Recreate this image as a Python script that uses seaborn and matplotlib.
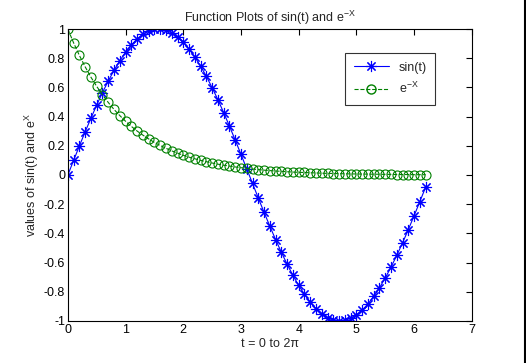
import matplotlib
matplotlib.use('Agg')
import matplotlib.pyplot as plt
import seaborn as sns
from matplotlib.lines import Line2D

# t = 0:0.1:6.2
t = [0.0, 0.1, 0.2, 0.3, 0.4, 0.5, 0.6, 0.7, 0.8, 0.9,
     1.0, 1.1, 1.2, 1.3, 1.4, 1.5, 1.6, 1.7, 1.8, 1.9,
     2.0, 2.1, 2.2, 2.3, 2.4, 2.5, 2.6, 2.7, 2.8, 2.9,
     3.0, 3.1, 3.2, 3.3, 3.4, 3.5, 3.6, 3.7, 3.8, 3.9,
     4.0, 4.1, 4.2, 4.3, 4.4, 4.5, 4.6, 4.7, 4.8, 4.9,
     5.0, 5.1, 5.2, 5.3, 5.4, 5.5, 5.6, 5.7, 5.8, 5.9,
     6.0, 6.1, 6.2]

sin_vals = [0.000, 0.100, 0.199, 0.296, 0.389, 0.479, 0.565, 0.644, 0.717, 0.783,
            0.841, 0.891, 0.932, 0.964, 0.985, 0.997, 1.000, 0.992, 0.974, 0.946,
            0.909, 0.863, 0.808, 0.746, 0.676, 0.598, 0.516, 0.427, 0.335, 0.239,
            0.141, 0.042, -0.058, -0.158, -0.256, -0.351, -0.443, -0.530, -0.612, -0.688,
            -0.757, -0.818, -0.872, -0.916, -0.952, -0.978, -0.994, -1.000, -0.996, -0.983,
            -0.959, -0.926, -0.884, -0.832, -0.773, -0.706, -0.631, -0.551, -0.465, -0.374,
            -0.279, -0.182, -0.083]

exp_vals = [1.000, 0.905, 0.819, 0.741, 0.670, 0.607, 0.549, 0.497, 0.449, 0.407,
            0.368, 0.333, 0.301, 0.273, 0.247, 0.223, 0.202, 0.183, 0.165, 0.150,
            0.135, 0.122, 0.111, 0.100, 0.091, 0.082, 0.074, 0.067, 0.061, 0.055,
            0.050, 0.045, 0.041, 0.037, 0.033, 0.030, 0.027, 0.025, 0.022, 0.020,
            0.018, 0.017, 0.015, 0.014, 0.012, 0.011, 0.010, 0.009, 0.008, 0.007,
            0.007, 0.006, 0.006, 0.005, 0.005, 0.004, 0.004, 0.003, 0.003, 0.003,
            0.002, 0.002, 0.002]

x_ticks = [0, 1, 2, 3, 4, 5, 6, 7]
y_ticks = [-1, -0.8, -0.6, -0.4, -0.2, 0, 0.2, 0.4, 0.6, 0.8, 1]
y_labels = ['-1', '-0.8', '-0.6', '-0.4', '-0.2', '0', '0.2', '0.4', '0.6', '0.8', '1']

sns.set_style('white')
plt.rcParams['font.family'] = ['Liberation Sans', 'DejaVu Sans']
plt.rcParams['mathtext.default'] = 'regular'
fs = 9

fig = plt.figure(figsize=(5.26, 3.63), dpi=100)
ax = fig.add_axes([0.129, 0.116, 0.768, 0.804])

star = (8, 2, 0)
sns.lineplot(x=t, y=sin_vals, ax=ax, color='blue', marker=star, markersize=8,
             markeredgecolor='blue', markeredgewidth=0.8, linewidth=0.8, sort=False)
sns.lineplot(x=t, y=exp_vals, ax=ax, color='green', linestyle='--', marker='o',
             markersize=6.5, markerfacecolor='none', markeredgecolor='green',
             markeredgewidth=0.8, linewidth=0.8, sort=False)

ax.set_xlim(0, 7)
ax.set_ylim(-1, 1)
ax.set_xticks(x_ticks)
ax.set_yticks(y_ticks)
ax.set_yticklabels(y_labels)
ax.tick_params(direction='in', length=4, width=0.8, top=True, right=True,
               colors='black', labelsize=fs, pad=2)
for s in ax.spines.values():
    s.set_color('black')
    s.set_linewidth(0.8)

ax.set_title('Function Plots of sin(t) and e$^{-X}$', fontsize=fs, pad=5)
ax.set_xlabel('t = 0 to 2π', fontsize=fs, labelpad=2)
ax.set_ylabel('values of sin(t) and e$^{X}$', fontsize=fs, labelpad=2)

handles = [Line2D([], [], color='blue', marker=star, markersize=8,
                  markeredgewidth=0.8, linewidth=0.8),
           Line2D([], [], color='green', linestyle='--', marker='o', markersize=6.5,
                  markerfacecolor='none', linewidth=0.8)]
leg = ax.legend(handles, ['sin(t)', 'e$^{-X}$'], loc='upper left',
                bbox_to_anchor=(0.67, 0.94), frameon=True, fancybox=False,
                edgecolor='black', handlelength=2.8, borderpad=0.7,
                labelspacing=0.6, fontsize=fs)
leg.get_frame().set_linewidth(0.8)

fig.add_artist(Line2D([0.998, 0.998], [0, 1], color='black', linewidth=1.5,
                      transform=fig.transFigure))

fig.savefig('out.png', dpi=100, facecolor='white')
